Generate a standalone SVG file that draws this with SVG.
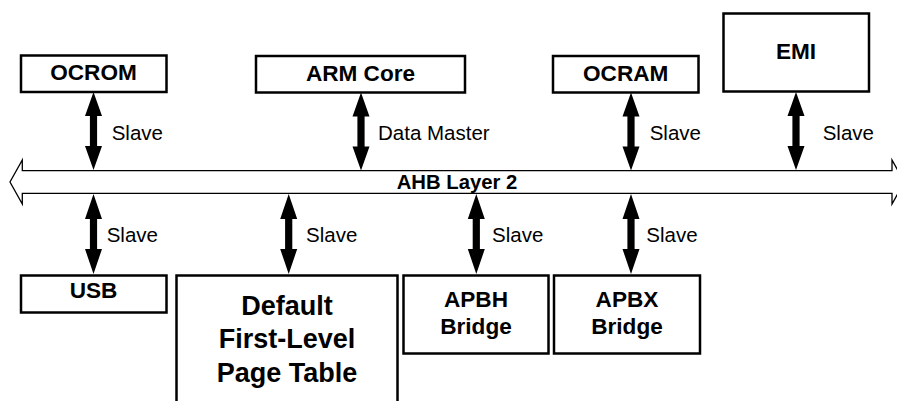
<svg xmlns="http://www.w3.org/2000/svg" xmlns:xlink="http://www.w3.org/1999/xlink" width="897" height="401" viewBox="0 0 897 401">
  <style>
    .box { fill: #fff; stroke: #000; stroke-width: 2.5; }
    .bus { fill: #fff; stroke: #000; stroke-width: 1.3; stroke-linejoin: miter; }
    .name { font-family: "Liberation Sans", Arial, Helvetica, sans-serif; font-weight: bold; font-size: 22.6px; text-anchor: middle; fill: #000; }
    .big { font-size: 27px; }
    .lbl { font-family: "Liberation Sans", Arial, Helvetica, sans-serif; font-size: 20.5px; fill: #000; }
    .busname { font-family: "Liberation Sans", Arial, Helvetica, sans-serif; font-weight: bold; font-size: 20.3px; text-anchor: middle; fill: #000; }
    .dbl { fill: #000; }
  </style>
  <defs>
    <!-- double-headed arrow, 78 px long, tip at y=0 -->
    <path id="arrowUp78" class="dbl" d="M0,0 L8.5,24 L3.6,24 L3.6,54 L8.5,54 L0,78 L-8.5,54 L-3.6,54 L-3.6,24 L-8.5,24 Z"/>
    <!-- double-headed arrow, 80 px long -->
    <path id="arrowDn80" class="dbl" d="M0,0 L8.5,25 L3.6,25 L3.6,55 L8.5,55 L0,80 L-8.5,55 L-3.6,55 L-3.6,25 L-8.5,25 Z"/>
  </defs>

  <!-- AHB bus -->
  <g id="bus">
    <path class="bus" d="M22.3,170.7 L892,170.7 L892,160 L904.3,182 L892,204 L892,193.3 L22.3,193.3 L22.3,204 L10,182 L22.3,160 Z"/>
    <text class="busname" x="457" y="189">AHB Layer 2</text>
  </g>

  <!-- connectors -->
  <g id="connectors">
    <use xlink:href="#arrowUp78" x="93.5" y="92"/>
    <use xlink:href="#arrowUp78" x="361" y="92.5"/>
    <use xlink:href="#arrowUp78" x="631" y="92.5"/>
    <use xlink:href="#arrowUp78" x="796" y="92"/>
    <use xlink:href="#arrowDn80" x="93.5" y="194"/>
    <use xlink:href="#arrowDn80" x="288.7" y="194"/>
    <use xlink:href="#arrowDn80" x="476.3" y="194"/>
    <use xlink:href="#arrowDn80" x="631" y="194"/>
    <text class="lbl" x="111.7" y="140">Slave</text>
    <text class="lbl" x="378" y="140">Data Master</text>
    <text class="lbl" x="649.7" y="140">Slave</text>
    <text class="lbl" x="822.7" y="140">Slave</text>
    <text class="lbl" x="106.7" y="242">Slave</text>
    <text class="lbl" x="306" y="242">Slave</text>
    <text class="lbl" x="492" y="242">Slave</text>
    <text class="lbl" x="646.3" y="242">Slave</text>
  </g>

  <!-- top row -->
  <g id="ocrom">
    <rect class="box" x="21" y="55.5" width="145.5" height="36.5"/>
    <text class="name" x="93.5" y="80">OCROM</text>
  </g>
  <g id="arm-core">
    <rect class="box" x="256" y="56" width="209" height="36.5"/>
    <text class="name" x="360.5" y="81">ARM Core</text>
  </g>
  <g id="ocram">
    <rect class="box" x="553" y="56" width="145.5" height="36.5"/>
    <text class="name" x="625.7" y="81">OCRAM</text>
  </g>
  <g id="emi">
    <rect class="box" x="723.5" y="13.5" width="145.5" height="78"/>
    <text class="name" x="796" y="59.3">EMI</text>
  </g>

  <!-- bottom row -->
  <g id="usb">
    <rect class="box" x="21" y="275.5" width="145.5" height="37"/>
    <text class="name" x="93.5" y="298.3">USB</text>
  </g>
  <g id="page-table">
    <rect class="box" x="176.5" y="275.5" width="221" height="140"/>
    <text class="name big" x="287" y="315">Default</text>
    <text class="name big" x="287" y="348.3">First-Level</text>
    <text class="name big" x="287" y="381.7">Page Table</text>
  </g>
  <g id="apbh">
    <rect class="box" x="403.5" y="275.5" width="145" height="78"/>
    <text class="name" x="476" y="306.7">APBH</text>
    <text class="name" x="476" y="334.3">Bridge</text>
  </g>
  <g id="apbx">
    <rect class="box" x="554" y="275.5" width="146" height="78"/>
    <text class="name" x="627" y="306.7">APBX</text>
    <text class="name" x="627" y="334.3">Bridge</text>
  </g>
</svg>
